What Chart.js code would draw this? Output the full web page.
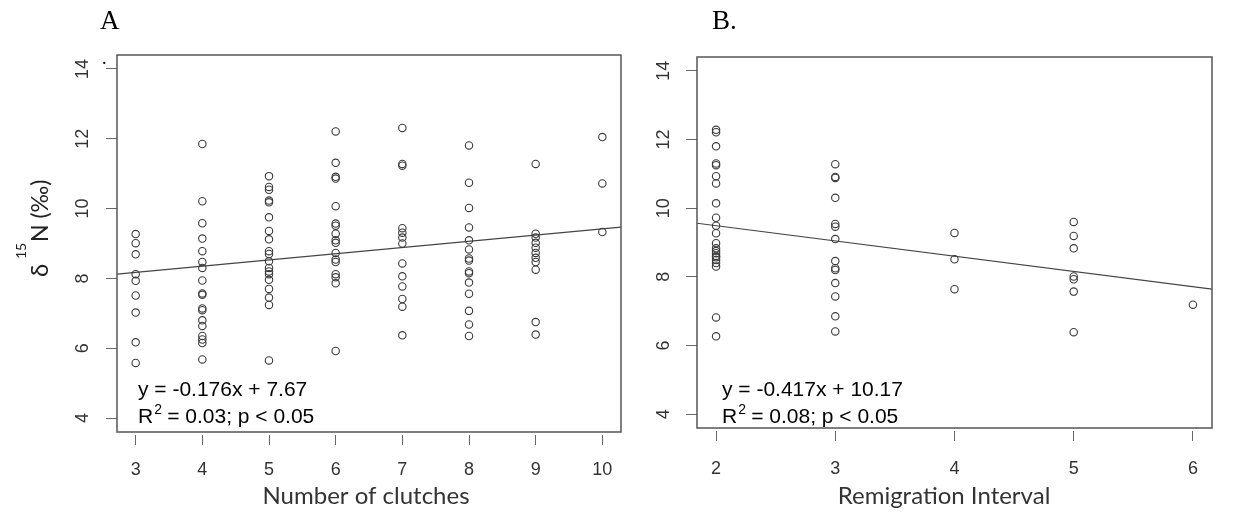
<!DOCTYPE html>
<html>
<head>
<meta charset="utf-8">
<script src="https://cdn.jsdelivr.net/npm/chart.js@4.4.0/dist/chart.umd.min.js"></script>
<style>
  html, body { margin: 0; padding: 0; background: #fff; }
  #wrap { position: relative; width: 1238px; height: 512px; overflow: hidden; }
  #chartA { position: absolute; left: 0; top: 0; width: 640px; height: 512px; }
  #chartB { position: absolute; left: 640px; top: 0; width: 598px; height: 512px; }
</style>
</head>
<body>
<div id="wrap">
  <canvas id="chartA" width="640" height="512"></canvas>
  <canvas id="chartB" width="598" height="512"></canvas>
</div>
<script>
// panel A: d15N by number of clutches
const clutches = [3, 4, 5, 6, 7, 8, 9, 10];
const d15nByClutches = [
  [9.27, 9.01, 8.69, 8.12, 7.93, 7.51, 7.02, 6.17, 5.58],
  [11.85, 10.21, 9.58, 9.14, 8.78, 8.47, 8.30, 7.94, 7.57, 7.53, 7.14, 7.09, 6.80, 6.64, 6.35, 6.25, 6.15, 5.68],
  [10.93, 10.62, 10.54, 10.23, 10.18, 9.75, 9.36, 9.12, 8.78, 8.70, 8.49, 8.30, 8.20, 8.12, 7.96, 7.70, 7.45, 7.24, 5.65],
  [12.21, 11.31, 10.91, 10.86, 10.07, 9.57, 9.51, 9.28, 9.09, 9.02, 8.73, 8.54, 8.47, 8.12, 8.03, 7.86, 5.92],
  [12.31, 11.28, 11.23, 9.44, 9.31, 9.17, 9.00, 8.43, 8.06, 7.77, 7.41, 7.19, 6.37],
  [11.81, 10.74, 10.02, 9.46, 9.09, 8.83, 8.57, 8.51, 8.20, 8.15, 7.88, 7.56, 7.07, 6.68, 6.35],
  [11.28, 9.28, 9.17, 9.02, 8.88, 8.73, 8.59, 8.47, 8.25, 6.75, 6.39],
  [12.05, 10.72, 9.33]
];
const fitAX = [2.72, 10.28];
const fitAY = [8.12, 9.47];

// panel B: d15N by remigration interval
const intervals = [2, 3, 4, 5, 6];
const d15nByInterval = [
  [12.28, 12.21, 11.80, 11.30, 11.25, 10.93, 10.72, 10.14, 9.72, 9.49, 9.27, 8.98, 8.83, 8.75, 8.69, 8.61, 8.57, 8.49, 8.40, 8.30, 6.82, 6.27],
  [11.28, 10.91, 10.88, 10.30, 9.54, 9.46, 9.10, 8.46, 8.25, 8.20, 7.82, 7.43, 6.85, 6.41],
  [9.28, 8.51, 7.64],
  [9.60, 9.19, 8.83, 8.01, 7.93, 7.57, 6.39],
  [7.19]
];
const fitBX = [1.84, 6.16];
const fitBY = [9.56, 7.64];

const yTicks = [4, 6, 8, 10, 12, 14];

const notes = {
  id: 'notes',
  afterDraw(chart, args, o) {
    const ctx = chart.ctx, a = chart.chartArea;
    ctx.save();
    // R style box
    ctx.strokeStyle = '#555';
    ctx.lineWidth = 1.5;
    ctx.strokeRect(a.left, a.top, a.right - a.left, a.bottom - a.top);

    ctx.fillStyle = '#000';
    ctx.textBaseline = 'alphabetic';
    ctx.font = '27px "Liberation Serif"';
    ctx.fillText(o.panel, o.panelX, 29);

    // regression text
    const x = a.left + o.eqDx;
    ctx.font = '21px "Liberation Sans"';
    ctx.fillText(o.eq, x, 396);
    ctx.fillText('R', x, 423);
    const w = ctx.measureText('R').width;
    ctx.font = '14px "Liberation Sans"';
    ctx.fillText('2', x + w + 1, 414);
    ctx.font = '21px "Liberation Sans"';
    ctx.fillText(o.stat, x + w + 14, 423);

    // x title
    ctx.fillStyle = '#333';
    ctx.textAlign = 'center';
    ctx.font = '24px Lato';
    ctx.fillText(o.xTitle, o.xTitleX, 504);
    ctx.textAlign = 'left';

    if (o.yTitle) {
      ctx.fillStyle = '#000';
      ctx.font = '18px "Liberation Serif"';
      ctx.fillText('.', 102, 64);
      ctx.fillStyle = '#222';
      ctx.translate(48, 277);
      ctx.rotate(-Math.PI / 2);
      ctx.font = '24px Lato';
      ctx.fillText('δ', 0, 0);
      ctx.font = '14px Lato';
      ctx.fillText('15', 18, -22);
      ctx.font = '23px Lato';
      ctx.fillText('N (‰)', 35, 0);
    }
    ctx.restore();
  }
};

function makeChart(id, cats, vals, fitX, fitY, xMin, xMax, area, o) {
  const pts = [];
  cats.forEach((c, i) => vals[i].forEach(v => pts.push({x: c, y: v})));
  return new Chart(document.getElementById(id), {
    data: {
      datasets: [
        {
          type: 'scatter',
          data: pts,
          pointStyle: 'circle',
          pointRadius: 3.7,
          borderWidth: 1.1,
          borderColor: '#3a3a3a',
          backgroundColor: 'rgba(0,0,0,0)'
        },
        {
          type: 'line',
          data: fitX.map((v, i) => ({x: v, y: fitY[i]})),
          borderColor: '#444',
          borderWidth: 1.2,
          pointRadius: 0
        }
      ]
    },
    options: {
      responsive: false,
      animation: false,
      layout: { padding: { left: 0, top: area.top, right: area.right, bottom: 0 } },
      plugins: { legend: { display: false }, tooltip: { enabled: false }, notes: o },
      scales: {
        x: {
          type: 'linear',
          min: xMin,
          max: xMax,
          afterBuildTicks: s => { s.ticks = cats.map(v => ({value: v})); },
          afterFit: s => { s.height = area.xH; },
          grid: { drawOnChartArea: false, drawTicks: true, tickLength: 13, color: '#666' },
          border: { display: true, width: 6, color: '#fff' },
          ticks: { padding: area.xPad, color: '#333', font: { family: 'Liberation Sans', size: 18 } },
          title: { display: false }
        },
        y: {
          min: 3.6,
          max: 14.4,
          afterBuildTicks: s => { s.ticks = yTicks.map(v => ({value: v})); },
          afterFit: s => { s.width = area.yW; },
          grid: { drawOnChartArea: false, drawTicks: true, tickLength: 11, color: '#666' },
          border: { display: false },
          ticks: { minRotation: 90, maxRotation: 90, crossAlign: 'center', padding: area.yPad,
                   color: '#333', font: { family: 'Liberation Sans', size: 18 } }
        }
      }
    },
    plugins: [notes]
  });
}

makeChart('chartA', clutches, d15nByClutches, fitAX, fitAY, 2.72, 10.28,
  { top: 55, right: 19, xH: 80, yW: 117, xPad: 14, yPad: 13 },
  { panel: 'A', panelX: 100, eq: 'y = -0.176x + 7.67', stat: '= 0.03; p < 0.05', eqDx: 21,
    xTitle: 'Number of clutches', xTitleX: 366, yTitle: true });

makeChart('chartB', intervals, d15nByInterval, fitBX, fitBY, 1.84, 6.16,
  { top: 57, right: 26, xH: 84, yW: 57, xPad: 17, yPad: 12 },
  { panel: 'B.', panelX: 72, eq: 'y = -0.417x + 10.17', stat: '= 0.08; p < 0.05', eqDx: 25,
    xTitle: 'Remigration Interval', xTitleX: 304, yTitle: false });
</script>
</body>
</html>
